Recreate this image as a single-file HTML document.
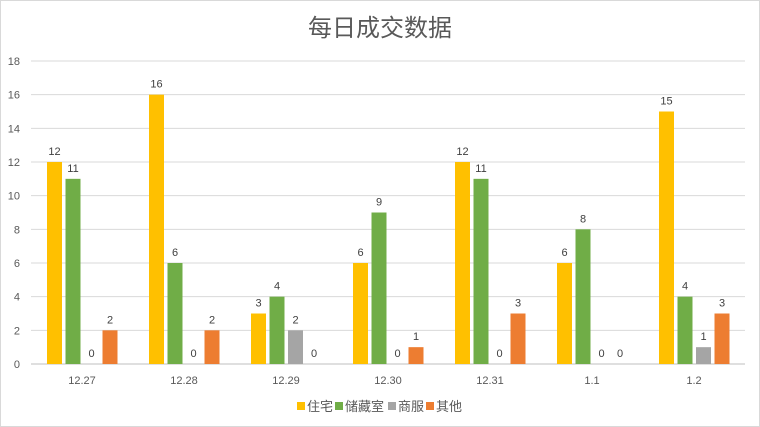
<!DOCTYPE html>
<html><head><meta charset="utf-8"><style>
body{margin:0;background:#fff}
svg{display:block;font-family:"Liberation Sans","Noto Sans CJK SC",sans-serif}
</style></head><body>
<svg id="chart" width="760" height="427" viewBox="0 0 760 427">
<rect x="0.5" y="0.5" width="759" height="426" fill="#fff" stroke="#d9d9d9"/>
<text x="380" y="36" text-anchor="middle" font-size="24" fill="#595959">每日成交数据</text>
<g id="grid"></g><g id="bars"></g><g id="labels"></g>
<g font-size="13" fill="#595959">
<g><rect x="297" y="402" width="8" height="8" fill="#ffc000"/><text x="307" y="411">住宅</text></g>
<g><rect x="335" y="402" width="8" height="8" fill="#70ad47"/><text x="345" y="411">储藏室</text></g>
<g><rect x="388" y="402" width="8" height="8" fill="#a5a5a5"/><text x="398" y="411">商服</text></g>
<g><rect x="426" y="402" width="8" height="8" fill="#ed7d31"/><text x="436" y="411">其他</text></g>
</g>
</svg>
<script>
const categories=["12.27","12.28","12.29","12.30","12.31","1.1","1.2"];
const residential=[12,16,3,6,12,6,15];
const storage=[11,6,4,9,11,8,4];
const commercial=[0,0,2,0,0,0,1];
const other=[2,2,0,1,3,0,3];
const yTicks=[0,2,4,6,8,10,12,14,16,18];
const seriesList=[["residential",residential,"#ffc000"],["storage",storage,"#70ad47"],["commercial",commercial,"#a5a5a5"],["other",other,"#ed7d31"]];
const NS="http://www.w3.org/2000/svg";
const x0=31,x1=745,yBase=364,yTop=61,yMax=18;
const y=v=>yBase-(v/yMax)*(yBase-yTop);
const bw=(x1-x0)/categories.length;
const xc=i=>x0+bw*(i+0.5);
function mk(tag,attrs,parent,text){const e=document.createElementNS(NS,tag);for(const k in attrs)e.setAttribute(k,attrs[k]);if(text!==undefined)e.textContent=text;parent.appendChild(e);return e;}
const grid=document.getElementById("grid"),bars=document.getElementById("bars"),labels=document.getElementById("labels");
yTicks.forEach(t=>{
  const l=mk("line",{x1:x0,x2:x1,y1:y(t),y2:y(t),stroke:t===0?"#bfbfbf":"#d9d9d9","stroke-width":1},grid);
  
  
  const tx=mk("text",{x:20,y:y(t)+4,"text-anchor":"end","font-size":11,fill:"#595959"},grid,String(t));
  
  
});
const barW=15,step=18.5;
categories.forEach((c,i)=>{
  const tx=mk("text",{x:xc(i),y:384,"text-anchor":"middle","font-size":11,fill:"#595959"},labels,c);
  
  
  seriesList.forEach(([name,vals,col],s)=>{
    const bx=xc(i)-35+s*step, v=vals[i];
    const r=mk("rect",{x:bx,y:y(v),width:barW,height:yBase-y(v),fill:col},bars);
    
    
    const lb=mk("text",{x:bx+barW/2,y:y(v)-7,"text-anchor":"middle","font-size":11,fill:"#404040"},labels,String(v));
    
    
  });
});
</script>
</body></html>
